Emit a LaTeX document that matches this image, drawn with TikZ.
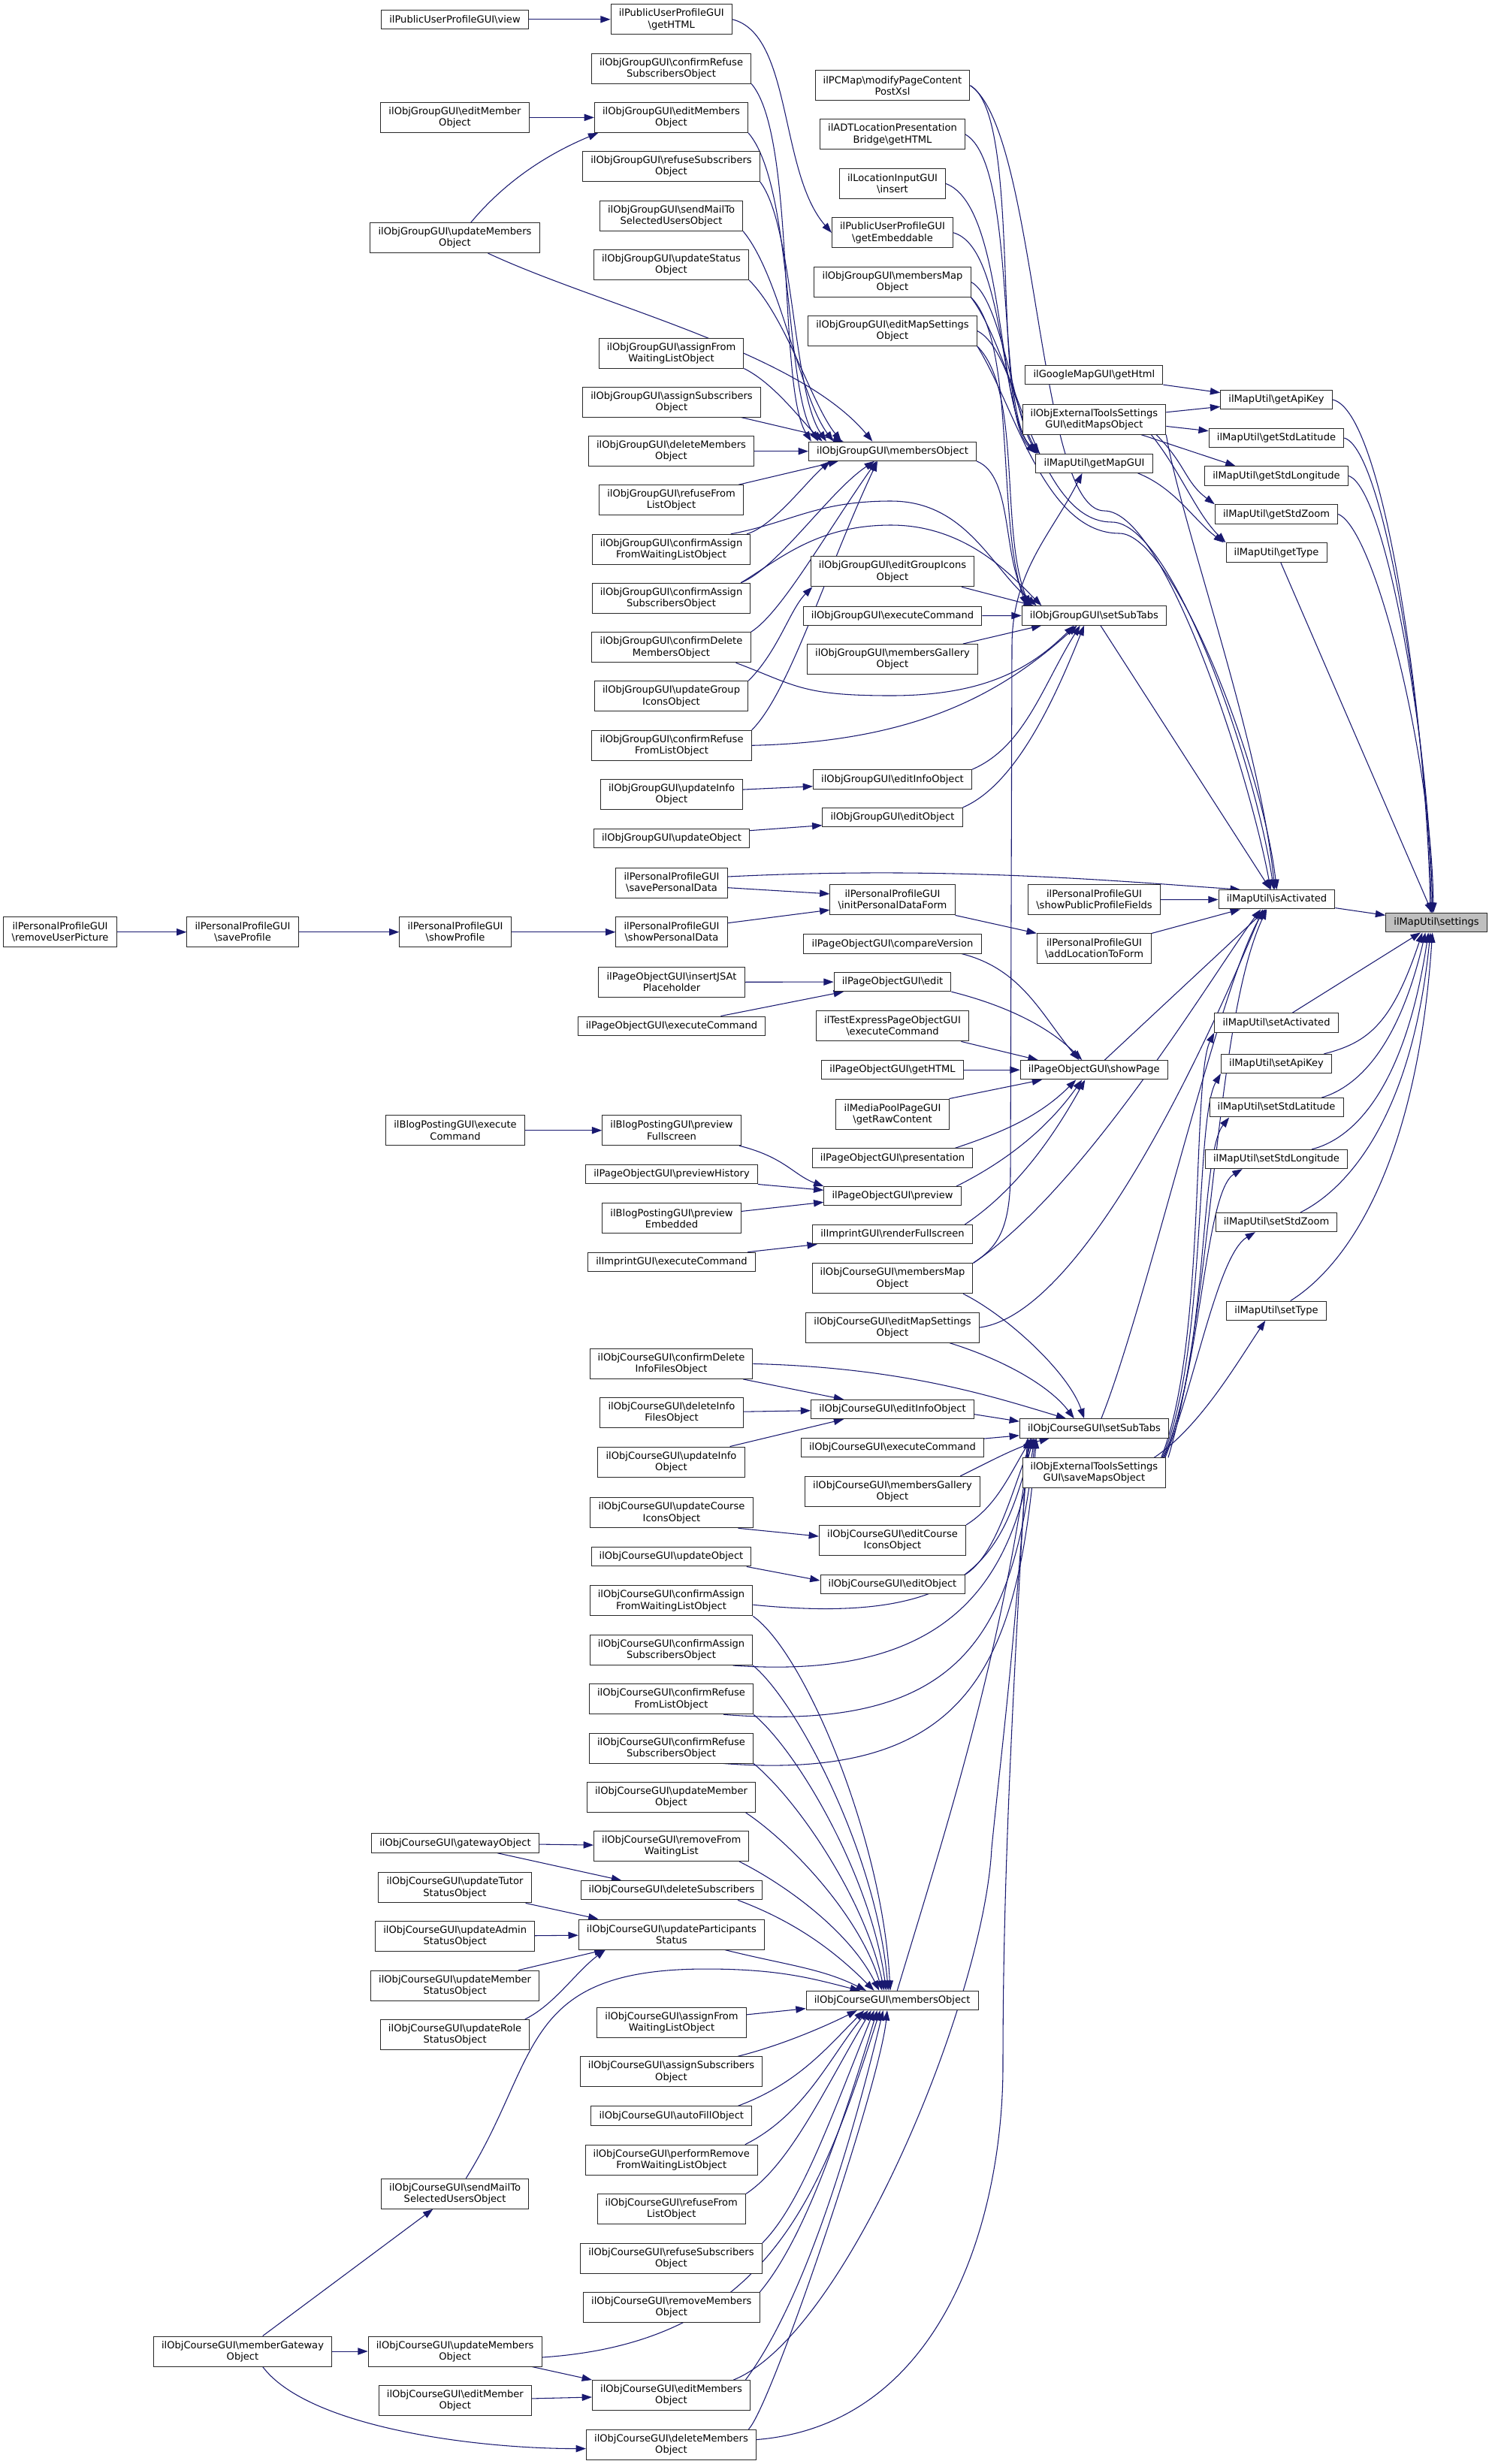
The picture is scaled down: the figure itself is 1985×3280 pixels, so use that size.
\documentclass[tikz,border=0pt]{standalone}
\usepackage{fontspec}
\setmainfont{DejaVu Sans}
\usetikzlibrary{arrows.meta}
\definecolor{edgec}{RGB}{25,25,112}
\definecolor{hl}{RGB}{191,191,191}
\definecolor{bord}{RGB}{40,40,40}
\newcommand\bs{\textbackslash}
\newcommand\nf{\fontsize{9.8pt}{11.4pt}\selectfont}
\pgfdeclarelayer{bg}
\pgfsetlayers{bg,main}
\tikzset{
 box/.style={draw=bord, line width=0.75pt, fill=white, font=\nf, align=center, inner xsep=8pt, inner ysep=0pt, minimum height=19pt},
 box2/.style={box, minimum height=30pt},
 e/.style={draw=edgec, line width=0.8pt, -{Triangle[length=10pt,width=7pt]}},
}
\newcommand\onebox[4]{\node[box] (#1) at (#2,-#3) {#4};}
\newcommand\twobox[5]{\node[box2] (#1) at (#2,-#3) {#4\\#5};}
\begin{document}
\begin{tikzpicture}[x=0.75pt,y=0.75pt]
\useasboundingbox (0,0) rectangle (1985,-3280);
% column C and left
\onebox{g_view}{605.5}{25.8}{ilPublicUserProfileGUI\bs view}
\twobox{g_editMember}{605.5}{156.4}{ilObjGroupGUI\bs editMember}{Object}
\twobox{g_updMembers}{605.5}{316.6}{ilObjGroupGUI\bs updateMembers}{Object}
\twobox{p_rup}{80}{1240.7}{ilPersonalProfileGUI}{\bs removeUserPicture}
\twobox{p_sp}{323}{1240.7}{ilPersonalProfileGUI}{\bs saveProfile}
\twobox{p_shp}{606}{1240.7}{ilPersonalProfileGUI}{\bs showProfile}
\twobox{b_exec}{606}{1504.7}{ilBlogPostingGUI\bs execute}{Command}
\onebox{c_gateway}{606}{2453.5}{ilObjCourseGUI\bs gatewayObject}
\twobox{c_updTutor}{605.5}{2512.9}{ilObjCourseGUI\bs updateTutor}{StatusObject}
\twobox{c_updAdmin}{605.7}{2577.7}{ilObjCourseGUI\bs updateAdmin}{StatusObject}
\twobox{c_updMemberSt}{605.6}{2643.1}{ilObjCourseGUI\bs updateMember}{StatusObject}
\twobox{c_updRole}{605.6}{2708.5}{ilObjCourseGUI\bs updateRole}{StatusObject}
\twobox{c_sendMail}{605.6}{2920.2}{ilObjCourseGUI\bs sendMailTo}{SelectedUsersObject}
\twobox{c_mgw}{323}{3130}{ilObjCourseGUI\bs memberGateway}{Object}
\twobox{c_updMembers}{605.6}{3130}{ilObjCourseGUI\bs updateMembers}{Object}
\twobox{c_editMember}{605.8}{3195.3}{ilObjCourseGUI\bs editMember}{Object}
% column D
\twobox{g_getHTML}{893.7}{25.8}{ilPublicUserProfileGUI}{\bs getHTML}
\twobox{g_confRefSub}{893.5}{91}{ilObjGroupGUI\bs confirmRefuse}{SubscribersObject}
\twobox{g_editMembers}{893.5}{156.4}{ilObjGroupGUI\bs editMembers}{Object}
\twobox{g_refSub}{893.5}{221.7}{ilObjGroupGUI\bs refuseSubscribers}{Object}
\twobox{g_sendMail}{893.5}{287.3}{ilObjGroupGUI\bs sendMailTo}{SelectedUsersObject}
\twobox{g_updStatus}{893.5}{352.4}{ilObjGroupGUI\bs updateStatus}{Object}
\twobox{g_assignFWL}{893.5}{470}{ilObjGroupGUI\bs assignFrom}{WaitingListObject}
\twobox{g_assignSub}{894}{535}{ilObjGroupGUI\bs assignSubscribers}{Object}
\twobox{g_delMembers}{893.5}{600.7}{ilObjGroupGUI\bs deleteMembers}{Object}
\twobox{g_refFL}{893.5}{665.7}{ilObjGroupGUI\bs refuseFrom}{ListObject}
\twobox{g_confAssFWL}{893.5}{731.3}{ilObjGroupGUI\bs confirmAssign}{FromWaitingListObject}
\twobox{g_confAssSub}{893.5}{796.3}{ilObjGroupGUI\bs confirmAssign}{SubscribersObject}
\twobox{g_confDel}{893.5}{861.8}{ilObjGroupGUI\bs confirmDelete}{MembersObject}
\twobox{g_updGroupIcons}{893.5}{926.8}{ilObjGroupGUI\bs updateGroup}{IconsObject}
\twobox{g_confRefFL}{894}{992.3}{ilObjGroupGUI\bs confirmRefuse}{FromListObject}
\twobox{g_updInfo}{894}{1057.7}{ilObjGroupGUI\bs updateInfo}{Object}
\onebox{g_updObj}{894}{1116.3}{ilObjGroupGUI\bs updateObject}
\twobox{p_savePD}{894}{1175}{ilPersonalProfileGUI}{\bs savePersonalData}
\twobox{p_showPD}{894}{1240.7}{ilPersonalProfileGUI}{\bs showPersonalData}
\twobox{po_insertJS}{894}{1307.4}{ilPageObjectGUI\bs insertJSAt}{Placeholder}
\onebox{po_exec}{894}{1365.7}{ilPageObjectGUI\bs executeCommand}
\twobox{b_prevFull}{894}{1504.7}{ilBlogPostingGUI\bs preview}{Fullscreen}
\onebox{po_prevHist}{894}{1563.3}{ilPageObjectGUI\bs previewHistory}
\twobox{b_prevEmb}{894}{1621.8}{ilBlogPostingGUI\bs preview}{Embedded}
\onebox{im_exec}{894}{1679.8}{ilImprintGUI\bs executeCommand}
\twobox{c_confDelInfo}{893.5}{1815.4}{ilObjCourseGUI\bs confirmDelete}{InfoFilesObject}
\twobox{c_delInfo}{894}{1880.7}{ilObjCourseGUI\bs deleteInfo}{FilesObject}
\twobox{c_updInfo}{893.5}{1946}{ilObjCourseGUI\bs updateInfo}{Object}
\twobox{c_updCourseIcons}{894}{2013.8}{ilObjCourseGUI\bs updateCourse}{IconsObject}
\onebox{c_updObj}{893.5}{2072.3}{ilObjCourseGUI\bs updateObject}
\twobox{c_confAssFWL}{893.5}{2130.9}{ilObjCourseGUI\bs confirmAssign}{FromWaitingListObject}
\twobox{c_confAssSub}{893.5}{2196.5}{ilObjCourseGUI\bs confirmAssign}{SubscribersObject}
\twobox{c_confRefFL}{893.5}{2261.8}{ilObjCourseGUI\bs confirmRefuse}{FromListObject}
\twobox{c_confRefSub}{893.5}{2327}{ilObjCourseGUI\bs confirmRefuse}{SubscribersObject}
\twobox{c_updMemberObj}{893.5}{2392.5}{ilObjCourseGUI\bs updateMember}{Object}
\twobox{c_remFWL}{893.7}{2457.5}{ilObjCourseGUI\bs removeFrom}{WaitingList}
\onebox{c_delSub}{894}{2516.2}{ilObjCourseGUI\bs deleteSubscribers}
\twobox{c_updPart}{893.9}{2575}{ilObjCourseGUI\bs updateParticipants}{Status}
\twobox{c_assignFWL}{894}{2692.5}{ilObjCourseGUI\bs assignFrom}{WaitingListObject}
\twobox{c_assignSub}{893.5}{2757.8}{ilObjCourseGUI\bs assignSubscribers}{Object}
\onebox{c_autoFill}{893.8}{2816.4}{ilObjCourseGUI\bs autoFillObject}
\twobox{c_perfRem}{893.8}{2875.2}{ilObjCourseGUI\bs performRemove}{FromWaitingListObject}
\twobox{c_refFL}{893.8}{2940.7}{ilObjCourseGUI\bs refuseFrom}{ListObject}
\twobox{c_refSub}{893.4}{3006.3}{ilObjCourseGUI\bs refuseSubscribers}{Object}
\twobox{c_remMembers}{893.8}{3071.4}{ilObjCourseGUI\bs removeMembers}{Object}
\twobox{c_editMembers}{893.5}{3188.5}{ilObjCourseGUI\bs editMembers}{Object}
\twobox{c_delMembers}{893.5}{3254.2}{ilObjCourseGUI\bs deleteMembers}{Object}
% column E
\twobox{pcmap}{1188}{113.8}{ilPCMap\bs modifyPageContent}{PostXsl}
\twobox{adt}{1188}{178.9}{ilADTLocationPresentation}{Bridge\bs getHTML}
\twobox{locin}{1188}{244.5}{ilLocationInputGUI}{\bs insert}
\twobox{g_getEmb}{1188}{309.8}{ilPublicUserProfileGUI}{\bs getEmbeddable}
\twobox{g_membersMap}{1188}{375.4}{ilObjGroupGUI\bs membersMap}{Object}
\twobox{g_editMapSet}{1188}{440.5}{ilObjGroupGUI\bs editMapSettings}{Object}
\onebox{g_membersObj}{1188}{600.7}{ilObjGroupGUI\bs membersObject}
\twobox{g_editGroupIcons}{1188}{760.8}{ilObjGroupGUI\bs editGroupIcons}{Object}
\onebox{g_exec}{1188}{819.7}{ilObjGroupGUI\bs executeCommand}
\twobox{g_membersGallery}{1188}{877.5}{ilObjGroupGUI\bs membersGallery}{Object}
\onebox{g_editInfo}{1188}{1037.4}{ilObjGroupGUI\bs editInfoObject}
\onebox{g_editObj}{1188}{1088}{ilObjGroupGUI\bs editObject}
\twobox{p_initPD}{1188}{1197.9}{ilPersonalProfileGUI}{\bs initPersonalDataForm}
\onebox{po_compare}{1188}{1256.4}{ilPageObjectGUI\bs compareVersion}
\onebox{po_edit}{1188}{1307}{ilPageObjectGUI\bs edit}
\twobox{te_exec}{1188}{1365.9}{ilTestExpressPageObjectGUI}{\bs executeCommand}
\onebox{po_getHTML}{1188}{1424.2}{ilPageObjectGUI\bs getHTML}
\twobox{mp_raw}{1188}{1483}{ilMediaPoolPageGUI}{\bs getRawContent}
\onebox{po_pres}{1188}{1541.5}{ilPageObjectGUI\bs presentation}
\onebox{po_preview}{1188}{1592.3}{ilPageObjectGUI\bs preview}
\onebox{im_render}{1188}{1643.2}{ilImprintGUI\bs renderFullscreen}
\twobox{c_membersMap}{1188}{1701.8}{ilObjCourseGUI\bs membersMap}{Object}
\twobox{c_editMapSet}{1188}{1767.1}{ilObjCourseGUI\bs editMapSettings}{Object}
\onebox{c_editInfo}{1188}{1876}{ilObjCourseGUI\bs editInfoObject}
\onebox{c_exec}{1188}{1927}{ilObjCourseGUI\bs executeCommand}
\twobox{c_membersGallery}{1188}{1985.4}{ilObjCourseGUI\bs membersGallery}{Object}
\twobox{c_editCourseIcons}{1188}{2050.4}{ilObjCourseGUI\bs editCourse}{IconsObject}
\onebox{c_editObj}{1188}{2109.3}{ilObjCourseGUI\bs editObject}
\onebox{c_membersObj}{1187.6}{2663}{ilObjCourseGUI\bs membersObject}
% column F
\onebox{gm_getHtml}{1456.4}{499}{ilGoogleMapGUI\bs getHtml}
\twobox{et_editMaps}{1456.4}{558.1}{ilObjExternalToolsSettings}{GUI\bs editMapsObject}
\onebox{mu_getMapGUI}{1456.5}{616.7}{ilMapUtil\bs getMapGUI}
\onebox{g_setSubTabs}{1456.4}{819.4}{ilObjGroupGUI\bs setSubTabs}
\twobox{p_showPub}{1456.5}{1197.9}{ilPersonalProfileGUI}{\bs showPublicProfileFields}
\twobox{p_addLoc}{1456.5}{1262.9}{ilPersonalProfileGUI}{\bs addLocationToForm}
\onebox{po_showPage}{1456.3}{1424.2}{ilPageObjectGUI\bs showPage}
\onebox{c_setSubTabs}{1456.5}{1901.5}{ilObjCourseGUI\bs setSubTabs}
\twobox{et_saveMaps}{1456.4}{1960.7}{ilObjExternalToolsSettings}{GUI\bs saveMapsObject}
% column G
\onebox{mu_getApiKey}{1699}{532}{ilMapUtil\bs getApiKey}
\onebox{mu_getStdLatitude}{1699}{583}{ilMapUtil\bs getStdLatitude}
\onebox{mu_getStdLongitude}{1699}{633.4}{ilMapUtil\bs getStdLongitude}
\onebox{mu_getStdZoom}{1699}{684.4}{ilMapUtil\bs getStdZoom}
\onebox{mu_getType}{1699}{735.4}{ilMapUtil\bs getType}
\onebox{mu_isActivated}{1699.5}{1197.3}{ilMapUtil\bs isActivated}
\onebox{mu_setActivated}{1699}{1361.5}{ilMapUtil\bs setActivated}
\onebox{mu_setApiKey}{1699}{1416}{ilMapUtil\bs setApiKey}
\onebox{mu_setStdLatitude}{1699}{1474.3}{ilMapUtil\bs setStdLatitude}
\onebox{mu_setStdLongitude}{1699}{1543}{ilMapUtil\bs setStdLongitude}
\onebox{mu_setStdZoom}{1699}{1627}{ilMapUtil\bs setStdZoom}
\onebox{mu_setType}{1699}{1744.7}{ilMapUtil\bs setType}
% column H
\node[box, fill=hl] (settings) at (1912,-1228.2) {ilMapUtil\bs settings};

\begin{pgfonlayer}{bg}
% ---- group top
\draw[e] (g_view) -- (g_getHTML);
\draw[e] (g_getHTML.east) .. controls +(80,-20) and +(-70,80) .. (g_getEmb.west);
\draw[e] (g_editMember) -- (g_editMembers);
\draw[e] ([xshift=16pt]g_updMembers.north) .. controls +(50,60) and +(-60,-25) .. ([xshift=4pt]g_editMembers.south west);
\draw[e] ([xshift=33pt]g_updMembers.south) .. controls +(150,-70) and +(-100,120) .. ([xshift=-20pt]g_membersObj.north);
\draw[e] (g_confRefSub.south east) .. controls +(60,-70) and +(-45,70) .. ([xshift=3pt]g_membersObj.north west);
\draw[e] (g_editMembers.south east) .. controls +(60,-70) and +(-45,70) .. ([xshift=10pt]g_membersObj.north west);
\draw[e] (g_refSub.south east) .. controls +(45,-60) and +(-45,65) .. ([xshift=18pt]g_membersObj.north west);
\draw[e] (g_sendMail.south east) .. controls +(50,-60) and +(-45,60) .. ([xshift=25pt]g_membersObj.north west);
\draw[e] (g_updStatus.south east) .. controls +(50,-50) and +(-40,50) .. ([xshift=33pt]g_membersObj.north west);
\draw[e] (g_assignFWL.south east) .. controls +(40,-20) and +(-30,30) .. ([xshift=14pt]g_membersObj.north west);
\draw[e] ([xshift=-20pt]g_assignSub.south east) -- ([xshift=35pt]g_membersObj.north west);
\draw[e] (g_delMembers) -- (g_membersObj);
\draw[e] ([xshift=-5pt]g_refFL.north east) -- ([xshift=30pt]g_membersObj.south west);
\draw[e] ([xshift=-4pt]g_confAssFWL.north east) .. controls +(35,10) and +(-30,-25) .. ([xshift=22pt]g_membersObj.south west);
\draw[e] ([xshift=-10pt]g_confAssSub.north east) .. controls +(50,20) and +(-60,-40) .. ([xshift=-18pt]g_membersObj.south);
\draw[e] (g_confDel.north east) .. controls +(40,25) and +(-70,-100) .. ([xshift=-16pt]g_membersObj.south);
\draw[e] (g_confRefFL.north east) .. controls +(50,50) and +(-70,-150) .. ([xshift=-15pt]g_membersObj.south);
\draw[e] (g_updGroupIcons.north east) .. controls +(40,40) and +(-30,-30) .. ([xshift=2pt]g_editGroupIcons.south west);
\draw[e] ([yshift=5pt]g_updInfo.east) -- ([yshift=-7pt]g_editInfo.west);
\draw[e] ([yshift=8pt]g_updObj.east) -- ([yshift=-8pt]g_editObj.west);
% ---- group setSubTabs
\draw[e] (g_exec) -- (g_setSubTabs);
\draw[e] ([xshift=-15pt]g_membersGallery.north east) -- ([xshift=20pt]g_setSubTabs.south west);
\draw[e] (g_editInfo.north east) .. controls +(70,30) and +(-50,-80) .. ([xshift=-14pt]g_setSubTabs.south);
\draw[e] (g_editObj.north east) .. controls +(70,30) and +(-40,-100) .. ([xshift=-10pt]g_setSubTabs.south);
\draw[e] ([xshift=-15pt]g_confDel.south east) .. controls +(80,-30) and +(-120,0) .. (1186,-926) .. controls +(120,0) and +(-60,-60) .. ([xshift=-20pt]g_setSubTabs.south);
\draw[e] (g_confRefFL.east) .. controls +(220,5) and +(-100,-90) .. ([xshift=-17pt]g_setSubTabs.south);
\draw[e] ([xshift=-20pt]g_confAssFWL.north east) .. controls +(80,15) and +(-100,0) .. (1186,-667) .. controls +(100,0) and +(-60,50) .. ([xshift=15pt]g_setSubTabs.north west);
\draw[e] ([xshift=-10pt]g_confAssSub.north east) .. controls +(50,30) and +(-100,0) .. (1186,-699) .. controls +(100,0) and +(-40,40) .. ([xshift=20pt]g_setSubTabs.north west);
\draw[e] (g_membersObj.south east) .. controls +(50,-20) and +(-40,60) .. ([xshift=10pt]g_setSubTabs.north west);
\draw[e] (g_membersMap.south east) .. controls +(60,-60) and +(-40,110) .. ([xshift=5pt]g_setSubTabs.north west);
\draw[e] (g_editMapSet.south east) .. controls +(60,-60) and +(-40,100) .. ([xshift=8pt]g_setSubTabs.north west);
\draw[e] ([xshift=-13pt]g_editGroupIcons.south east) -- ([xshift=12pt]g_setSubTabs.north west);
% ---- getMapGUI
\draw[e] (g_getEmb.east) .. controls +(70,-20) and +(-50,50) .. ([xshift=2pt]mu_getMapGUI.north west);
\draw[e] (pcmap.east) .. controls +(70,-40) and +(-60,60) .. (mu_getMapGUI.north west);
\draw[e] (adt.east) .. controls +(70,-40) and +(-55,60) .. ([xshift=1pt]mu_getMapGUI.north west);
\draw[e] (locin.east) .. controls +(80,-30) and +(-55,55) .. ([xshift=2pt]mu_getMapGUI.north west);
\draw[e] (g_membersMap.east) .. controls +(40,-20) and +(-30,40) .. ([xshift=3pt]mu_getMapGUI.north west);
\draw[e] (g_editMapSet.east) .. controls +(40,-20) and +(-25,35) .. ([xshift=4pt]mu_getMapGUI.north west);
\draw[e] (c_membersMap.north east) .. controls +(30,20) and +(0,-80) .. (1345,-1560) -- (1347,-860) .. controls +(0,100) and +(-40,-80) .. ([xshift=-12pt]mu_getMapGUI.south);
% ---- isActivated from above
\draw[e] (pcmap.east) .. controls +(90,-60) and +(-90,0) .. (1470,-680) .. controls +(80,0) and +(-30,160) .. ([xshift=-6pt]mu_isActivated.north);
\draw[e] (g_membersMap.south east) .. controls +(60,-80) and +(-100,0) .. (1480,-695) .. controls +(80,0) and +(-25,170) .. ([xshift=-3pt]mu_isActivated.north);
\draw[e] (g_editMapSet.south east) .. controls +(50,-80) and +(-100,0) .. (1490,-710) .. controls +(70,0) and +(-20,170) .. (mu_isActivated.north);
\draw[e] (g_setSubTabs) -- (mu_isActivated);
\draw[e] (et_editMaps.south east) .. controls +(20,-120) and +(-20,200) .. ([xshift=-2pt]mu_isActivated.north);
% ---- editMaps / getters
\draw[e] ([yshift=7pt]et_editMaps.east) -- ([yshift=-7pt]mu_getApiKey.west);
\draw[e] (gm_getHtml.south east) -- ([yshift=7pt]mu_getApiKey.west);
\draw[e] ([yshift=-7pt]et_editMaps.east) -- ([yshift=7pt]mu_getStdLatitude.west);
\draw[e] ([xshift=-25pt]et_editMaps.south east) -- ([xshift=31pt]mu_getStdLongitude.north west);
\draw[e] ([xshift=-10pt]et_editMaps.south east) .. controls +(40,-40) and +(-40,30) .. (mu_getStdZoom.north west);
\draw[e] ([xshift=-15pt]et_editMaps.south east) .. controls +(40,-50) and +(-40,40) .. (mu_getType.north west);
\draw[e] ([xshift=-15pt]mu_getMapGUI.south east) .. controls +(50,-20) and +(-40,30) .. ([xshift=-2pt]mu_getType.north west);
% ---- settings
\draw[e] (mu_getApiKey.east) .. controls +(70,-15) and +(-5,250) .. ([xshift=-6pt]settings.north);
\draw[e] (mu_getStdLatitude.east) .. controls +(55,-15) and +(-4,230) .. ([xshift=-5pt]settings.north);
\draw[e] (mu_getStdLongitude.east) .. controls +(50,-15) and +(-3,220) .. ([xshift=-4pt]settings.north);
\draw[e] (mu_getStdZoom.east) .. controls +(50,-20) and +(-2,200) .. ([xshift=-3pt]settings.north);
\draw[e] (mu_getType) -- (settings);
\draw[e] (mu_isActivated) -- (settings);
\draw[e] (mu_setActivated) -- (settings);
\draw[e] ([xshift=-8pt]mu_setApiKey.north east) .. controls +(60,15) and +(-40,-120) .. ([xshift=-14pt]settings.south);
\draw[e] ([xshift=-22pt]mu_setStdLatitude.north east) .. controls +(50,15) and +(-35,-150) .. ([xshift=-11pt]settings.south);
\draw[e] ([xshift=-36pt]mu_setStdLongitude.north east) .. controls +(60,15) and +(-30,-200) .. ([xshift=-8pt]settings.south);
\draw[e] ([xshift=-37pt]mu_setStdZoom.north east) .. controls +(60,30) and +(-25,-250) .. ([xshift=-6pt]settings.south);
\draw[e] ([xshift=-36pt]mu_setType.north east) .. controls +(80,50) and +(-20,-300) .. ([xshift=-4pt]settings.south);
% ---- isActivated left / below
\draw[e] ([yshift=6pt]p_savePD.east) .. controls +(300,15) and +(-150,10) .. ([xshift=22pt]mu_isActivated.north west);
\draw[e] (p_showPub) -- (mu_isActivated);
\draw[e] (p_addLoc.north east) -- ([xshift=22pt]mu_isActivated.south west);
\draw[e] (po_showPage) -- (mu_isActivated);
\draw[e] ([xshift=7pt]c_setSubTabs.north) .. controls +(60,150) and +(-60,-100) .. ([xshift=-12pt]mu_isActivated.south);
\draw[e] ([xshift=2pt]et_saveMaps.north east) .. controls +(60,200) and +(-70,-150) .. ([xshift=-10pt]mu_isActivated.south);
\draw[e] (c_membersMap.north east) .. controls +(150,100) and +(-60,-80) .. ([xshift=-16pt]mu_isActivated.south);
\draw[e] (c_editMapSet.east) .. controls +(150,20) and +(-50,-120) .. ([xshift=-14pt]mu_isActivated.south);
% ---- setters
\draw[e] ([xshift=-5pt]et_saveMaps.north east) .. controls +(60,150) and +(-30,-60) .. (mu_setActivated.south west);
\draw[e] ([xshift=-4pt]et_saveMaps.north east) .. controls +(60,140) and +(-35,-60) .. (mu_setApiKey.south west);
\draw[e] ([xshift=-3pt]et_saveMaps.north east) .. controls +(60,130) and +(-40,-50) .. ([xshift=20pt]mu_setStdLatitude.south west);
\draw[e] ([xshift=-2pt]et_saveMaps.north east) .. controls +(50,120) and +(-50,-30) .. ([xshift=-34pt]mu_setStdLongitude.south);
\draw[e] ([xshift=-1pt]et_saveMaps.north east) .. controls +(40,100) and +(-50,-30) .. ([xshift=-21pt]mu_setStdZoom.south);
\draw[e] ([xshift=-12pt]et_saveMaps.north east) .. controls +(60,40) and +(-40,-60) .. ([xshift=-11pt]mu_setType.south);
% ---- personal
\draw[e] (p_rup) -- (p_sp);
\draw[e] (p_sp) -- (p_shp);
\draw[e] (p_shp) -- (p_showPD);
\draw[e] ([yshift=-5pt]p_savePD.east) -- ([yshift=6pt]p_initPD.west);
\draw[e] ([yshift=9pt]p_showPD.east) -- ([yshift=-10pt]p_initPD.west);
\draw[e] (p_initPD.south east) -- (p_addLoc.north west);
% ---- page
\draw[e] (po_insertJS) -- (po_edit);
\draw[e] ([xshift=-45pt]po_exec.north east) -- ([xshift=10pt]po_edit.south west);
\draw[e] ([xshift=-20pt]po_compare.south east) .. controls +(80,-20) and +(-50,60) .. ([xshift=-15pt]po_showPage.north);
\draw[e] (po_edit.south east) .. controls +(60,-15) and +(-50,50) .. ([xshift=-12pt]po_showPage.north);
\draw[e] ([xshift=-8pt]te_exec.south east) -- ([xshift=18pt]po_showPage.north west);
\draw[e] (po_getHTML) -- (po_showPage);
\draw[e] (mp_raw.north east) -- ([xshift=22pt]po_showPage.south west);
\draw[e] ([xshift=-18pt]po_pres.north east) .. controls +(60,20) and +(-50,-50) .. ([xshift=-18pt]po_showPage.south);
\draw[e] ([xshift=-5pt]po_preview.north east) .. controls +(60,30) and +(-50,-70) .. ([xshift=-12pt]po_showPage.south);
\draw[e] ([xshift=-8pt]im_render.north east) .. controls +(60,40) and +(-50,-90) .. ([xshift=-9pt]po_showPage.south);
\draw[e] (b_exec) -- (b_prevFull);
\draw[e] ([xshift=-2pt]b_prevFull.south east) .. controls +(60,-15) and +(-40,15) .. (po_preview.north west);
\draw[e] (po_prevHist.south east) -- ([yshift=6pt]po_preview.west);
\draw[e] ([yshift=7pt]b_prevEmb.east) -- ([yshift=-6pt]po_preview.west);
\draw[e] ([xshift=-8pt]im_exec.north east) -- ([xshift=5pt]im_render.south west);
% ---- course setSubTabs
\draw[e] ([xshift=-10pt]c_membersMap.south east) .. controls +(60,-30) and +(-20,60) .. ([xshift=-10pt]c_setSubTabs.north);
\draw[e] ([xshift=-30pt]c_editMapSet.south east) .. controls +(80,-25) and +(-30,40) .. ([xshift=-20pt]c_setSubTabs.north);
\draw[e] ([xshift=-10pt]c_confDelInfo.south east) -- ([xshift=33pt]c_editInfo.north west);
\draw[e] (c_confDelInfo.east) .. controls +(200,-5) and +(-100,30) .. ([xshift=-28pt]c_setSubTabs.north);
\draw[e] (c_delInfo) -- (c_editInfo);
\draw[e] ([xshift=-15pt]c_updInfo.north east) -- ([xshift=33pt]c_editInfo.south west);
\draw[e] ([xshift=-15pt]c_updCourseIcons.south east) -- ([yshift=4pt]c_editCourseIcons.west);
\draw[e] ([xshift=-5pt]c_updObj.south east) -- ([yshift=4pt]c_editObj.west);
\draw[e] ([yshift=-5pt]c_editInfo.east) -- ([yshift=7pt]c_setSubTabs.west);
\draw[e] ([yshift=9pt]c_exec.east) -- ([yshift=-7pt]c_setSubTabs.west);
\draw[e] ([xshift=-20pt]c_membersGallery.north east) .. controls +(50,25) and +(-40,-10) .. ([xshift=30pt]c_setSubTabs.south west);
\draw[e] (c_editCourseIcons.north east) .. controls +(40,25) and +(-30,-50) .. ([xshift=12pt]c_setSubTabs.south west);
\draw[e] (c_editObj.north east) .. controls +(40,25) and +(-30,-80) .. ([xshift=13pt]c_setSubTabs.south west);
\draw[e] ([yshift=-4pt]c_confAssFWL.east) .. controls +(300,-30) and +(-40,-150) .. ([xshift=14pt]c_setSubTabs.south west);
\draw[e] ([xshift=-20pt]c_confAssSub.south east) .. controls +(280,-20) and +(-30,-200) .. ([xshift=15pt]c_setSubTabs.south west);
\draw[e] ([xshift=-30pt]c_confRefFL.south east) .. controls +(320,-25) and +(-30,-260) .. ([xshift=16pt]c_setSubTabs.south west);
\draw[e] ([xshift=-30pt]c_confRefSub.south east) .. controls +(330,-25) and +(-25,-300) .. ([xshift=17pt]c_setSubTabs.south west);
\draw[e] ([xshift=5pt]c_membersObj.north) .. controls +(60,200) and +(-40,-300) .. ([xshift=11pt]c_setSubTabs.south west);
\draw[e] ([xshift=-17pt]c_editMembers.north east) .. controls +(150,60) and +(-10,-200) .. (1320,-2460) .. controls +(15,150) and +(-20,-300) .. ([xshift=9pt]c_setSubTabs.south west);
\draw[e] ([yshift=5pt]c_delMembers.east) .. controls +(250,20) and +(0,-200) .. (1335,-2750) .. controls +(0,250) and +(-20,-350) .. ([xshift=8pt]c_setSubTabs.south west);
% ---- course membersObject
\draw[e] (c_confAssFWL.south east) .. controls +(70,-50) and +(-10,200) .. ([xshift=-2pt]c_membersObj.north);
\draw[e] (c_confAssSub.south east) .. controls +(60,-50) and +(-15,180) .. ([xshift=-4pt]c_membersObj.north);
\draw[e] (c_confRefFL.south east) .. controls +(60,-50) and +(-20,150) .. ([xshift=-6pt]c_membersObj.north);
\draw[e] (c_confRefSub.south east) .. controls +(60,-50) and +(-25,120) .. ([xshift=-8pt]c_membersObj.north);
\draw[e] ([xshift=-10pt]c_updMemberObj.south east) .. controls +(60,-40) and +(-30,100) .. ([xshift=-10pt]c_membersObj.north);
\draw[e] ([xshift=-10pt]c_remFWL.south east) .. controls +(60,-30) and +(-40,80) .. ([xshift=-13pt]c_membersObj.north);
\draw[e] ([xshift=-25pt]c_delSub.south east) .. controls +(80,-30) and +(-50,50) .. ([xshift=-18pt]c_membersObj.north);
\draw[e] ([xshift=-40pt]c_updPart.south east) .. controls +(80,-20) and +(-60,30) .. ([xshift=-26pt]c_membersObj.north);
\draw[e] ([xshift=11pt]c_sendMail.north) .. controls +(100,160) and +(-250,0) .. (940,-2621) .. controls +(100,0) and +(-60,15) .. ([xshift=-32pt]c_membersObj.north);
\draw[e] ([yshift=8pt]c_assignFWL.east) -- ([yshift=-8pt]c_membersObj.west);
\draw[e] ([xshift=-25pt]c_assignSub.north east) .. controls +(60,15) and +(-40,-20) .. ([xshift=-35pt]c_membersObj.south);
\draw[e] ([xshift=-14pt]c_autoFill.north east) .. controls +(80,30) and +(-50,-50) .. ([xshift=-28pt]c_membersObj.south);
\draw[e] ([xshift=-13pt]c_perfRem.north east) .. controls +(80,40) and +(-50,-60) .. ([xshift=-24pt]c_membersObj.south);
\draw[e] (c_refFL.north east) .. controls +(60,40) and +(-60,-100) .. ([xshift=-21pt]c_membersObj.south);
\draw[e] (c_refSub.north east) .. controls +(50,50) and +(-60,-150) .. ([xshift=-18pt]c_membersObj.south);
\draw[e] (c_remMembers.north east) .. controls +(50,60) and +(-60,-200) .. ([xshift=-15pt]c_membersObj.south);
\draw[e] ([yshift=-6pt]c_updMembers.east) .. controls +(300,20) and +(-80,-250) .. ([xshift=-12pt]c_membersObj.south);
\draw[e] ([xshift=-5pt]c_editMembers.north east) .. controls +(60,80) and +(-60,-250) .. ([xshift=-9pt]c_membersObj.south);
\draw[e] ([xshift=-8pt]c_delMembers.north east) .. controls +(30,30) and +(-10,-100) .. ([xshift=-5pt]c_membersObj.south);
% ---- course left parts
\draw[e] (c_gateway) -- (c_remFWL);
\draw[e] ([xshift=-42pt]c_gateway.south east) -- ([xshift=41pt]c_delSub.north west);
\draw[e] ([xshift=-6pt]c_updTutor.south east) -- ([xshift=20pt]c_updPart.north west);
\draw[e] (c_updAdmin) -- (c_updPart);
\draw[e] ([xshift=-21pt]c_updMemberSt.north east) -- ([xshift=26pt]c_updPart.south west);
\draw[e] ([xshift=-5pt]c_updRole.north east) .. controls +(40,20) and +(-40,-30) .. ([xshift=27pt]c_updPart.south west);
\draw[e] ([xshift=20pt]c_mgw.north) -- ([xshift=-22pt]c_sendMail.south);
\draw[e] (c_mgw) -- (c_updMembers);
\draw[e] ([xshift=20pt]c_mgw.south) .. controls +(60,-80) and +(-150,0) .. ([yshift=-4pt]c_delMembers.west);
\draw[e] ([xshift=-10pt]c_updMembers.south east) -- (c_editMembers.north west);
\draw[e] (c_editMember) -- (c_editMembers);
\end{pgfonlayer}
\end{tikzpicture}
\end{document}
